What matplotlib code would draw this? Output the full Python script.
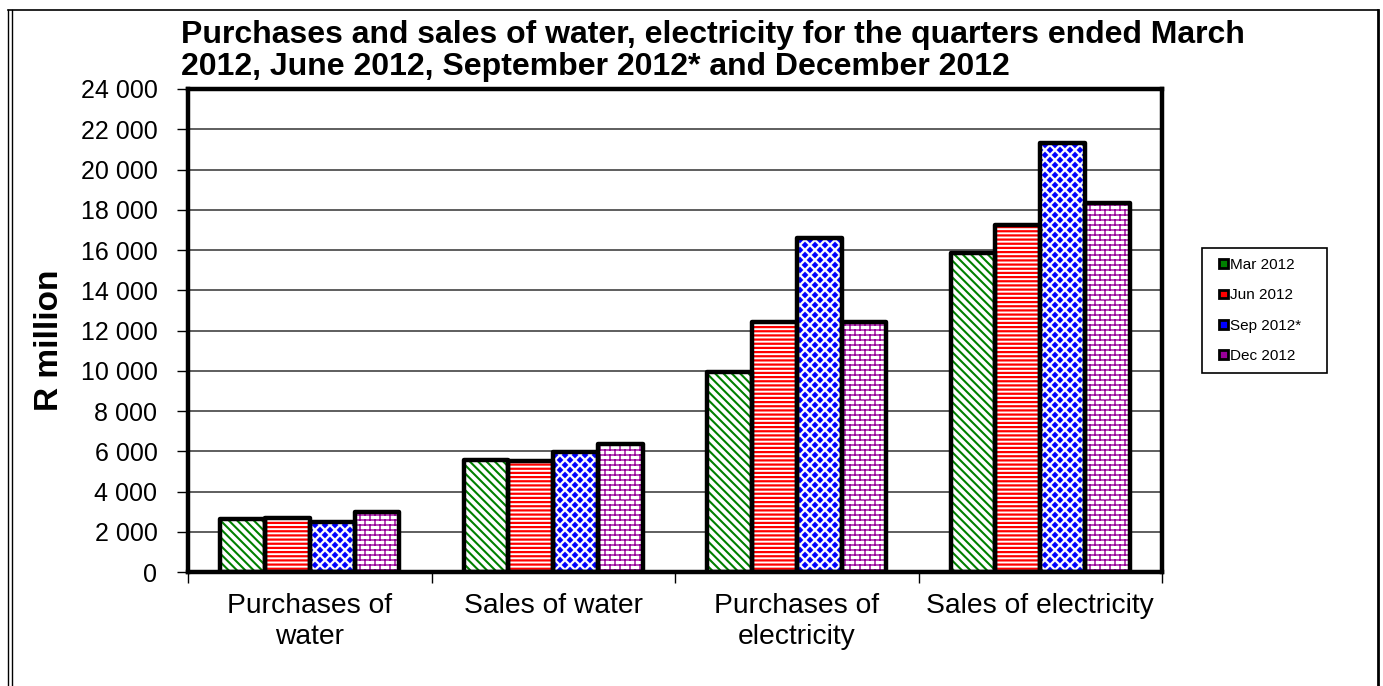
import numpy as np
import matplotlib
matplotlib.use('Agg')
import matplotlib.pyplot as plt
import matplotlib.hatch as mhatch
from matplotlib.path import Path
from matplotlib.patches import Patch, Rectangle
from matplotlib.legend_handler import HandlerPatch
from matplotlib.lines import Line2D

plt.rcParams['font.family'] = ['Liberation Sans', 'DejaVu Sans']

# data (R million)
categories = ['Purchases of\nwater', 'Sales of water', 'Purchases of\nelectricity', 'Sales of electricity']
quarters = ['Mar 2012', 'Jun 2012', 'Sep 2012*', 'Dec 2012']
mar_2012 = [2650, 5550, 9950, 15850]
jun_2012 = [2700, 5500, 12400, 17250]
sep_2012 = [2500, 5950, 16600, 21300]
dec_2012 = [3000, 6350, 12400, 18350]
y_ticks = list(range(0, 24001, 2000))


# custom fill patterns: staggered diamonds ('*') and bricks ('O')
class DiamondHatch(mhatch.HatchPatternBase):
    def __init__(self, hatch, density):
        self.n = hatch.count('*') * 10
        self.centres = []
        if self.n:
            for r in range(2 * self.n + 1):
                y = r / (2 * self.n)
                if r % 2 == 0:
                    xs = np.arange(self.n + 1) / self.n
                else:
                    xs = (np.arange(self.n) + 0.5) / self.n
                self.centres += [(x, y) for x in xs]
        self.num_vertices = len(self.centres) * 5

    def set_vertices_and_codes(self, vertices, codes):
        h = 0.33 / self.n
        shape = np.array([[0, -h], [h, 0], [0, h], [-h, 0], [0, -h]])
        for i, (x, y) in enumerate(self.centres):
            vertices[i * 5:(i + 1) * 5] = shape + (x, y)
            codes[i * 5:(i + 1) * 5] = [Path.MOVETO, Path.LINETO, Path.LINETO,
                                        Path.LINETO, Path.CLOSEPOLY]


class BrickHatch(mhatch.HatchPatternBase):
    def __init__(self, hatch, density):
        self.rows = hatch.count('O') * 20
        self.cols = hatch.count('O') * 10
        self.segs = []
        if self.rows:
            for r in range(self.rows + 1):
                y = r / self.rows
                self.segs.append(((0, y), (1, y)))
            for r in range(self.rows):
                y0, y1 = r / self.rows, (r + 1) / self.rows
                if r % 2 == 0:
                    xs = np.arange(self.cols + 1) / self.cols
                else:
                    xs = (np.arange(self.cols) + 0.5) / self.cols
                self.segs += [((x, y0), (x, y1)) for x in xs]
        self.num_vertices = len(self.segs) * 2

    def set_vertices_and_codes(self, vertices, codes):
        for i, (a, b) in enumerate(self.segs):
            vertices[2 * i] = a
            vertices[2 * i + 1] = b
            codes[2 * i] = Path.MOVETO
            codes[2 * i + 1] = Path.LINETO


mhatch._hatch_types = [t for t in mhatch._hatch_types
                       if t not in (mhatch.Stars, mhatch.LargeCircles)] + [DiamondHatch, BrickHatch]

series = [mar_2012, jun_2012, sep_2012, dec_2012]
colors = ['#008000', '#FF0000', '#0000FF', '#990099']
hatches = ['\\\\\\\\', '----', '*', 'O']
hatch_lw = [1.5, 1.6, 0.1, 1.0]

fig = plt.figure(figsize=(13.83, 6.86), dpi=100)
ax = fig.add_axes([188 / 1383, 1 - 572 / 686, (1162 - 188) / 1383, (572 - 89) / 686])

x = np.arange(len(categories))
w = 0.184
for i, vals in enumerate(series):
    pos = x + (i - 1.5) * w
    plt.rcParams['hatch.linewidth'] = hatch_lw[i]
    bars = ax.bar(pos, vals, w, color='white', edgecolor=colors[i], hatch=hatches[i],
                  linewidth=0, zorder=2)
    for b in bars:
        if hasattr(b, 'set_hatch_linewidth'):
            b.set_hatch_linewidth(hatch_lw[i])
    ax.bar(pos, vals, w, fill=False, edgecolor='black', linewidth=3.2, zorder=3,
           joinstyle='round')

ax.set_xlim(-0.5, len(categories) - 0.5)
ax.set_ylim(0, 24000)
ax.set_yticks(y_ticks)
ax.set_yticklabels([f'{v:,}'.replace(',', ' ') for v in y_ticks], fontsize=18)
ax.set_xticks(x)
ax.set_xticklabels(categories, fontsize=20.3, linespacing=1.25)
ax.set_xticks(np.arange(len(categories) + 1) - 0.5, minor=True)
ax.tick_params(axis='x', which='major', length=0, pad=15)
ax.tick_params(axis='x', which='minor', length=8, width=1, direction='out')
ax.tick_params(axis='y', length=8, width=1, direction='out', pad=14)
ax.yaxis.grid(True, color='#333333', linewidth=1.1, zorder=1)
ax.set_axisbelow(True)
for s in ax.spines.values():
    s.set_linewidth(3.2)

fig.text(181 / 1383, 1 - 20 / 686,
         'Purchases and sales of water, electricity for the quarters ended March\n'
         '2012, June 2012, September 2012* and December 2012',
         ha='left', va='top', fontsize=23, fontweight='bold', linespacing=1.1)
fig.text(50 / 1383, 1 - 340 / 686, 'R million', rotation=90, ha='center', va='center',
         fontsize=24, fontweight='bold')


# legend marker: small square sitting at the right end of the handle box
def small_square(legend, orig_handle, xdescent, ydescent, width, height, fontsize):
    return Rectangle((-xdescent + width - height, -ydescent), height, height)


handles = [Patch(facecolor=c, edgecolor='black', linewidth=2) for c in colors]
fig.legend(handles, quarters, loc='upper left',
           bbox_to_anchor=(1202 / 1383, 1 - 376 / 686, 125 / 1383, 128 / 686),
           mode='expand', borderaxespad=0, fontsize=11, handlelength=1.05,
           handleheight=0.5, handletextpad=0.1, labelspacing=1.07, borderpad=0.66,
           handler_map={Patch: HandlerPatch(patch_func=small_square)},
           fancybox=False, shadow=False, framealpha=1,
           edgecolor='black').get_frame().set_linewidth(1.2)

# outer frame of the picture (double line on the left)
for xx in (8, 12):
    fig.add_artist(Line2D([xx / 1383, xx / 1383], [0, 1 - 10 / 686], color='black',
                          linewidth=1, transform=fig.transFigure))
fig.add_artist(Line2D([8 / 1383, 1378 / 1383], [1 - 10 / 686, 1 - 10 / 686], color='black',
                      linewidth=1.2, transform=fig.transFigure))
fig.add_artist(Line2D([1378 / 1383, 1378 / 1383], [0, 1 - 10 / 686], color='black',
                      linewidth=2, transform=fig.transFigure))

fig.savefig('out.png', dpi=100, facecolor='white')
